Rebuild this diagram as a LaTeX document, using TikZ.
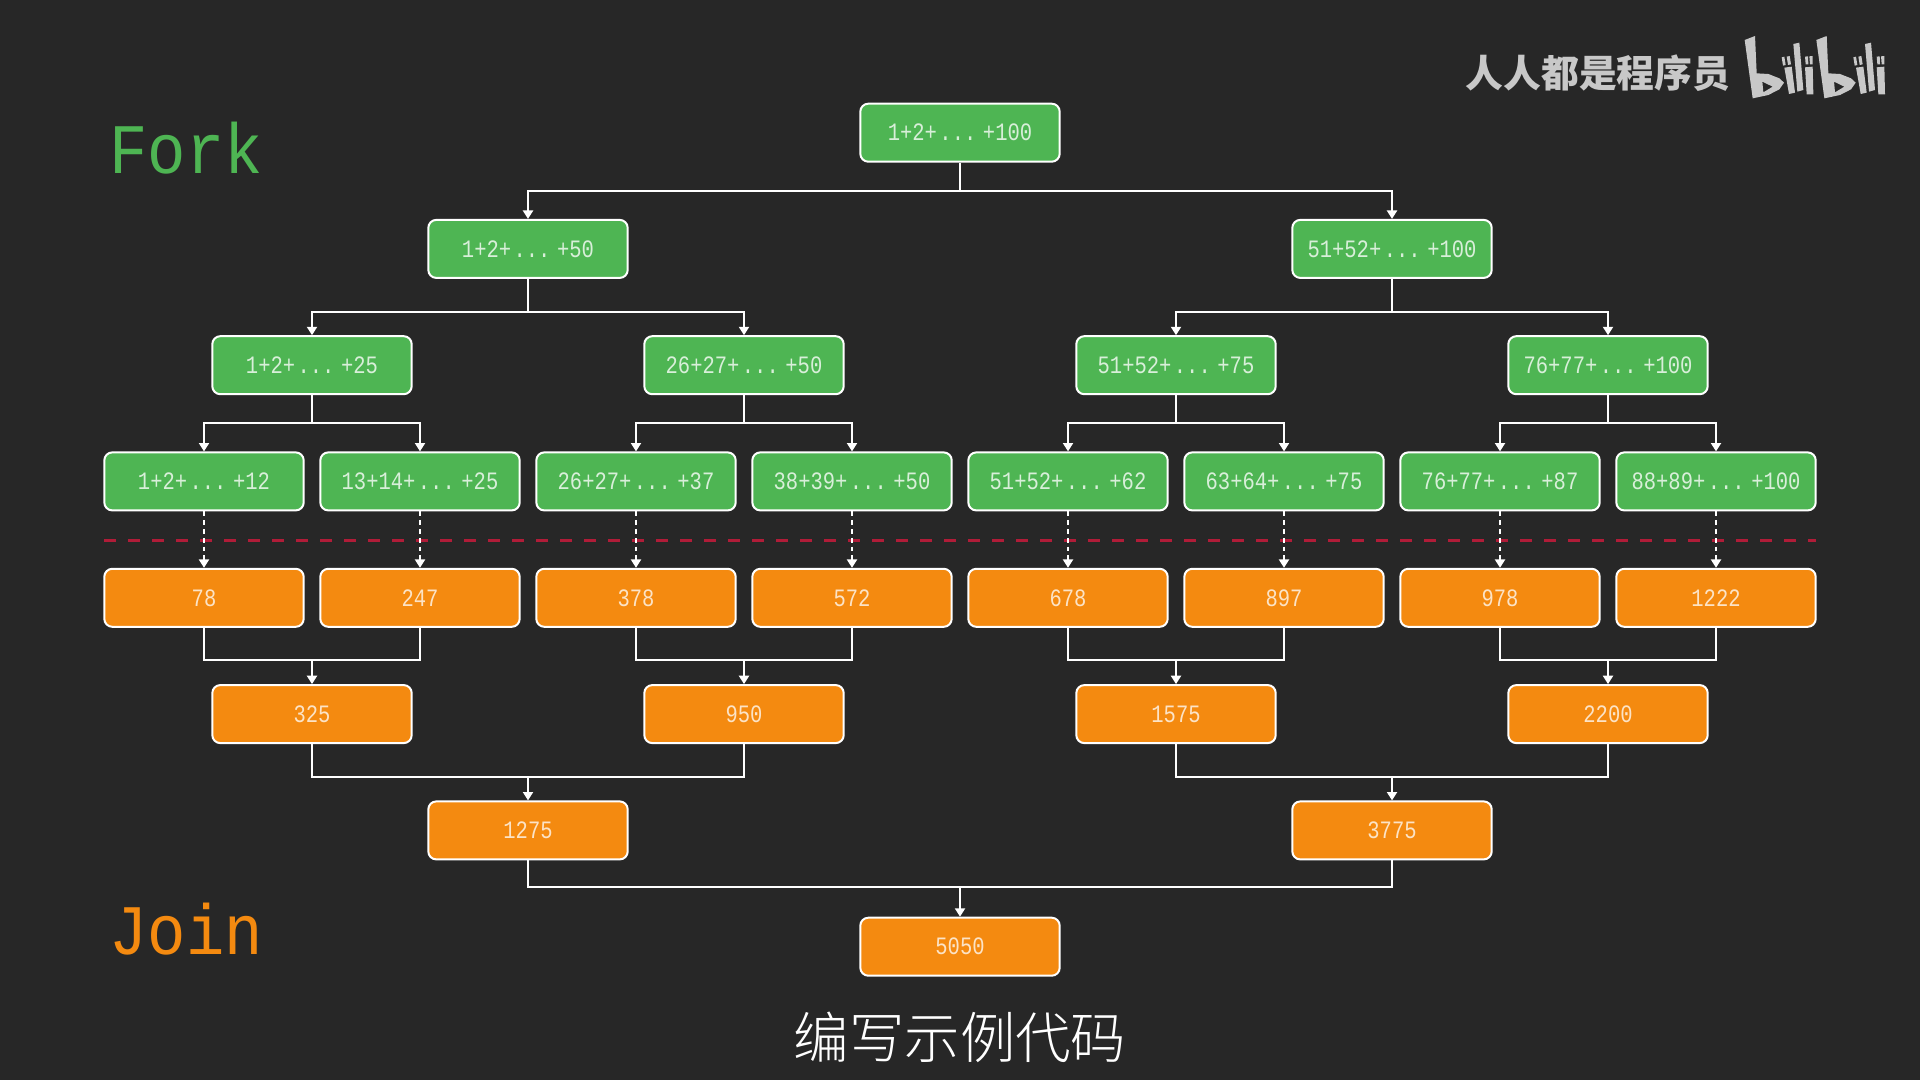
\documentclass[tikz,border=0pt]{standalone}
\usepackage{fontspec}
\usetikzlibrary{arrows.meta}
\newfontfamily\boxfont[FakeStretch=0.82,WordSpace=0.2]{Liberation Mono}
\newfontfamily\bigfont[FakeStretch=0.9]{Liberation Mono}
\newfontfamily\cjkfont{Noto Sans CJK SC}
\newfontfamily\cjklight{Noto Sans CJK SC Light}
\definecolor{bgc}{HTML}{272727}
\definecolor{gc}{HTML}{4EB553}
\definecolor{oc}{HTML}{F48A10}
\definecolor{rc}{HTML}{B01C38}
\definecolor{logoc}{HTML}{C8C8C8}
\tikzset{
  basebox/.style={draw=white,line width=1pt,rounded corners=4pt,minimum width=99.7pt,minimum height=29pt,inner sep=0pt,font=\boxfont\fontsize{12.5}{14}\selectfont},
  gbox/.style={basebox,fill=gc,text=white!78!gc},
  obox/.style={basebox,fill=oc,text=white!76!oc},
  conn/.style={draw=white,line width=1pt,-{Triangle[length=4.2pt,width=5pt]}},
  dconn/.style={conn,dash pattern=on 2.4pt off 2pt},
  wire/.style={draw=white,line width=1pt},
  logopart/.style={fill=logoc,draw=none},
}
\begin{document}
\begin{tikzpicture}[x=0.5pt,y=-0.5pt]
\useasboundingbox[fill=bgc] (0,0) rectangle (1920,1080);
% headings
\node[text=gc,font=\bigfont\fontsize{35.5}{40}\selectfont,anchor=base west,inner sep=0pt] (forktitle) at (109,174) {Fork};
\node[text=oc,font=\bigfont\fontsize{35.5}{40}\selectfont,anchor=base west,inner sep=0pt] (jointitle) at (109,954) {Join};
% fork nodes
\node[gbox] (r) at (960,132.7) {1+2+ ... +100};
\node[gbox] (a1) at (528,248.9) {1+2+ ... +50};
\node[gbox] (a2) at (1392,248.9) {51+52+ ... +100};
\node[gbox] (b1) at (312,365.2) {1+2+ ... +25};
\node[gbox] (b2) at (744,365.2) {26+27+ ... +50};
\node[gbox] (b3) at (1176,365.2) {51+52+ ... +75};
\node[gbox] (b4) at (1608,365.2) {76+77+ ... +100};
\node[gbox] (c1) at (204,481.4) {1+2+ ... +12};
\node[gbox] (c2) at (420,481.4) {13+14+ ... +25};
\node[gbox] (c3) at (636,481.4) {26+27+ ... +37};
\node[gbox] (c4) at (852,481.4) {38+39+ ... +50};
\node[gbox] (c5) at (1068,481.4) {51+52+ ... +62};
\node[gbox] (c6) at (1284,481.4) {63+64+ ... +75};
\node[gbox] (c7) at (1500,481.4) {76+77+ ... +87};
\node[gbox] (c8) at (1716,481.4) {88+89+ ... +100};
% join nodes
\node[obox] (d1) at (204,597.8) {78};
\node[obox] (d2) at (420,597.8) {247};
\node[obox] (d3) at (636,597.8) {378};
\node[obox] (d4) at (852,597.8) {572};
\node[obox] (d5) at (1068,597.8) {678};
\node[obox] (d6) at (1284,597.8) {897};
\node[obox] (d7) at (1500,597.8) {978};
\node[obox] (d8) at (1716,597.8) {1222};
\node[obox] (e1) at (312,714.1) {325};
\node[obox] (e2) at (744,714.1) {950};
\node[obox] (e3) at (1176,714.1) {1575};
\node[obox] (e4) at (1608,714.1) {2200};
\node[obox] (f1) at (528,830.4) {1275};
\node[obox] (f2) at (1392,830.4) {3775};
\node[obox] (g) at (960,946.7) {5050};
% red line
\coordinate (redL) at (104,540);
\coordinate (redR) at (1816,540);
\draw[rc,line width=1.5pt,dash pattern=on 6pt off 6pt] (redL) -- (redR);
% fork connectors
\foreach \p/\x/\y/\h in {r/a1/a2/28.5,a1/b1/b2/33.5,a2/b3/b4/33.5,b1/c1/c2/27.5,b2/c3/c4/27.5,b3/c5/c6/27.5,b4/c7/c8/27.5}{
  \draw[conn] (\p.south) -- ++(0,\h) -| (\x.north);
  \draw[conn] (\p.south) -- ++(0,\h) -| (\y.north);
}
% dashed
\foreach \i in {1,...,8}{
  \draw[dconn] (c\i.south) -- (d\i.north);
}
% join connectors
\foreach \p/\x/\y/\h in {e1/d1/d2/32,e2/d3/d4/32,e3/d5/d6/32,e4/d7/d8/32,f1/e1/e2/33,f2/e3/e4/33,g/f1/f2/26.5}{
  \draw[wire] (\x.south) -- ++(0,\h) -| (\y.south);
  \draw[conn] (\x.south) ++(0,\h) -| (\p.north);
}
% caption
\node[text=white,font=\cjklight\fontsize{27.7}{30}\selectfont,inner sep=0pt] (caption) at (960,1037) {编写示例代码};
% watermark
\node[text=logoc,font=\cjkfont\bfseries\fontsize{18.9}{20}\selectfont,inner sep=0pt] (mark) at (1598,73) {人人都是程序员};
\begin{scope}[shift={(1740,30)},x=0.16667pt,y=-0.16667pt]
\foreach \dx in {0,215}{
  \begin{scope}[xshift=\dx*0.16667pt]
  \fill[logopart,even odd rule] (14,30)--(45,18)--(50,130)--(85,132)--(118,145)--(132,158)--(118,178)--(85,195)--(38,205)--cycle (67,155)--(98,170)--(70,187)--cycle;
  \fill[logopart] (125,82)--(133,80)--(137,105)--(129,107)--cycle;
  \fill[logopart] (140,80)--(149,78)--(153,103)--(144,105)--cycle;
  \fill[logopart] (133,113)--(155,110)--(165,188)--(147,192)--cycle;
  \fill[logopart] (160,42)--(178,38)--(190,180)--(172,185)--cycle;
  \fill[logopart] (195,80)--(204,79)--(205,103)--(197,103)--cycle;
  \fill[logopart] (208,79)--(218,78)--(218,103)--(210,103)--cycle;
  \fill[logopart] (195,112)--(218,110)--(220,193)--(200,193)--cycle;
  \end{scope}
}
\end{scope}
\end{tikzpicture}
\end{document}
